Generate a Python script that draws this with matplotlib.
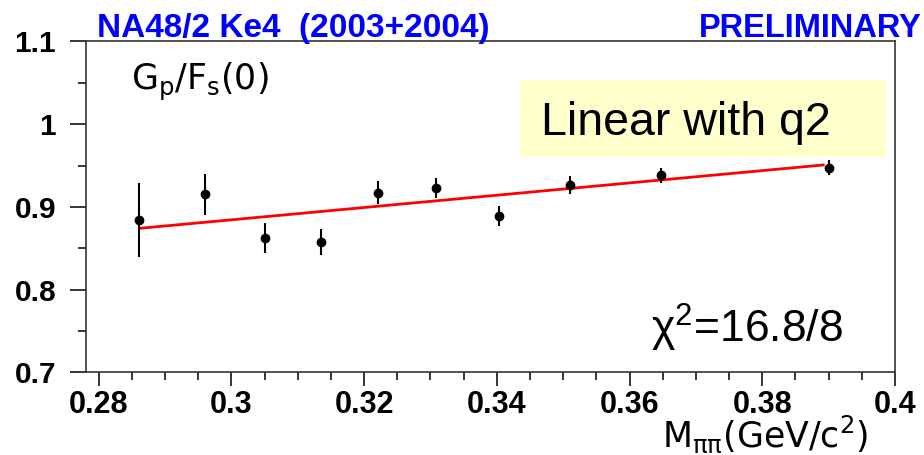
import numpy as np
import matplotlib
matplotlib.use("Agg")
import matplotlib.pyplot as plt
from matplotlib.ticker import MultipleLocator, FuncFormatter

# Data: Gp/Fs(0) vs M_pipi bins
m_pipi = [0.2861, 0.2960, 0.3050, 0.3135, 0.3221, 0.3308, 0.3403, 0.3511, 0.3647, 0.3900]
gp_fs = [0.8845, 0.9152, 0.8628, 0.8579, 0.9172, 0.9232, 0.8894, 0.9265, 0.9383, 0.9475]
gp_err = [0.0447, 0.0246, 0.0181, 0.0155, 0.0137, 0.0121, 0.0121, 0.0107, 0.0091, 0.0091]

# fit line (linear in q2), end points
fit_x = [0.2862, 0.3892]
fit_y = [0.8741, 0.9507]

x_ticks = [0.28, 0.30, 0.32, 0.34, 0.36, 0.38, 0.40]
y_ticks = [0.7, 0.8, 0.9, 1.0, 1.1]

plt.rcParams['font.family'] = ['Liberation Sans', 'DejaVu Sans']
plt.rcParams['mathtext.default'] = 'regular'

fig = plt.figure(figsize=(9.24, 4.55), dpi=100)
ax = fig.add_axes([0.0931, 0.1818, 0.8755, 0.7270])

ax.plot(fit_x, fit_y, color='red', lw=2.0, zorder=2)
ax.errorbar(m_pipi, gp_fs, yerr=gp_err, fmt='o', color='black', ms=6,
            elinewidth=1.5, capsize=0, zorder=3)

ax.set_xlim(0.2781, 0.4)
ax.set_ylim(0.7, 1.1)
ax.set_xticks(x_ticks)
ax.set_yticks(y_ticks)
ax.xaxis.set_minor_locator(MultipleLocator(0.005))
ax.yaxis.set_minor_locator(MultipleLocator(0.05))
fmt = FuncFormatter(lambda v, p: '%g' % round(v, 4))
ax.xaxis.set_major_formatter(fmt)
ax.yaxis.set_major_formatter(fmt)

ax.tick_params(axis='y', which='major', direction='out', length=11.5, width=1.1,
               labelsize=21.5, pad=10, right=False)
ax.tick_params(axis='y', which='minor', direction='out', length=5.8, width=1.1, right=False)
ax.tick_params(axis='x', which='major', direction='out', length=10, width=1.1,
               labelsize=22, pad=3, top=False)
ax.tick_params(axis='x', which='minor', direction='out', length=5.5, width=1.1, top=False)
for lab in ax.get_xticklabels() + ax.get_yticklabels():
    lab.set_fontweight('bold')
for s in ax.spines.values():
    s.set_linewidth(1.2)
    s.set_color('#333333')

# header texts
fig.text(97 / 924, 1 - 37 / 455, 'NA48/2 Ke4  (2003+2004)', color='#0000ff',
         fontsize=24, fontweight='bold', ha='left', va='baseline')
fig.text(922 / 924, 1 - 37 / 455, 'PRELIMINARY', color='#0000ff',
         fontsize=23.5, fontweight='bold', ha='right', va='baseline')

# axis titles in ROOT style
fig.text(131 / 924, 1 - 90 / 455, r'$G_p/F_s(0)$', fontsize=25, ha='left',
         va='baseline', family='DejaVu Sans')
fig.text(868 / 924, 1 - 447 / 455, r'$M_{\pi\pi}(GeV/c^2)$', fontsize=25, ha='right',
         va='baseline', family='DejaVu Sans')

# annotation box
fig.patches.append(plt.Rectangle((520 / 924, 1 - 157 / 455), 366 / 924, 77 / 455,
                                 transform=fig.transFigure, facecolor='#ffffcc',
                                 edgecolor='none', zorder=5))
fig.text(541 / 924, 1 - 135 / 455, 'Linear with q2', fontsize=33.5, ha='left',
         va='baseline', zorder=6)
fig.text(651 / 924, 1 - 343 / 455, r'$\chi^2$=16.8/8', fontsize=32, ha='left',
         va='baseline')

fig.savefig('out.png', dpi=100)
